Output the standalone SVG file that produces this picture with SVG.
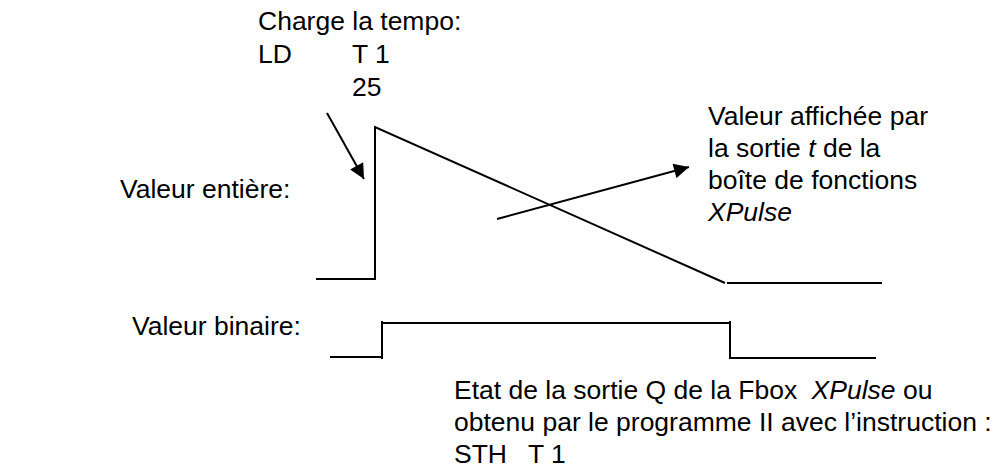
<svg xmlns="http://www.w3.org/2000/svg" width="999" height="476" viewBox="0 0 999 476">
<style>
text{font-family:"Liberation Sans",Arial,sans-serif;font-size:26.5px;fill:#000}
.i{font-style:italic}
.ln{fill:none;stroke:#000;stroke-width:2}
</style>
<defs>
<marker id="ah" viewBox="0 0 10 10" refX="10" refY="5" markerWidth="9" markerHeight="7.5" markerUnits="strokeWidth" orient="auto">
<path d="M0,0 L10,5 L0,10 z" fill="#000"/>
</marker>
</defs>
<rect width="999" height="476" fill="#fff"/>
<g id="label-charge">
<text x="258" y="30">Charge la tempo:</text>
<text x="258" y="63">LD</text>
<text x="352" y="63">T 1</text>
<text x="352" y="96">25</text>
</g>
<g id="label-entiere"><text x="120" y="198">Valeur entière:</text></g>
<g id="label-binaire"><text x="132" y="335">Valeur binaire:</text></g>
<g id="label-affichee">
<text x="708" y="125">Valeur affichée par</text>
<text x="708" y="157">la sortie <tspan class="i">t</tspan> de la</text>
<text x="708" y="189">boîte de fonctions</text>
<text x="708" y="221" class="i">XPulse</text>
</g>
<g id="label-etat">
<text x="454" y="399">Etat de la sortie Q de la Fbox <tspan class="i" dx="7">XPulse</tspan> ou</text>
<text x="454" y="431">obtenu par le programme II avec l’instruction :</text>
<text x="454" y="463">STH</text>
<text x="528" y="463">T 1</text>
</g>
<g id="signal-entier">
<polyline class="ln" points="316,279 375,279 375,127 725,283"/>
<line class="ln" x1="727" y1="283" x2="882" y2="283"/>
</g>
<g id="signal-binaire">
<polyline class="ln" points="330,357 382,357"/>
<polyline class="ln" points="382,359 382,321"/>
<polyline class="ln" points="381,323 731,323"/>
<polyline class="ln" points="730,321 730,359"/>
<polyline class="ln" points="731,358 876,358"/>
</g>
<g id="connectors">
<line class="ln" x1="327" y1="113" x2="364" y2="179" marker-end="url(#ah)"/>
<line class="ln" x1="497" y1="219" x2="689" y2="167" marker-end="url(#ah)"/>
</g>
</svg>
